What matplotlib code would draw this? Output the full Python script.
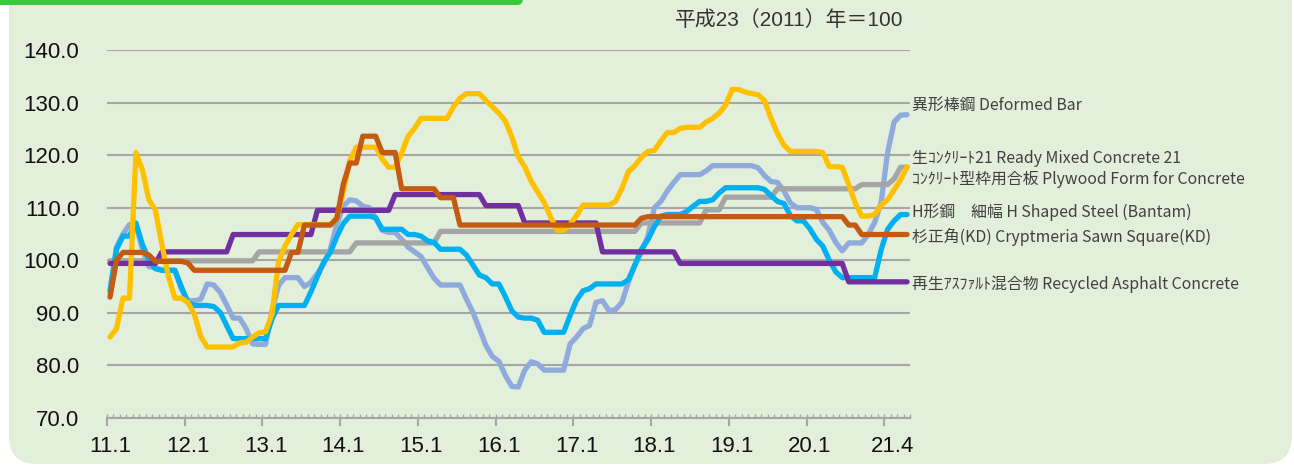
import matplotlib
matplotlib.use('Agg')
import matplotlib.pyplot as plt
from matplotlib.patches import FancyBboxPatch
from matplotlib.transforms import IdentityTransform
import numpy as np

# ---------------- data (monthly index, 2011.1 -> 2021.4) ----------------
x_labels = ["11.1", "12.1", "13.1", "14.1", "15.1", "16.1", "17.1", "18.1", "19.1", "20.1", "21.4"]
y_ticks = [70, 80, 90, 100, 110, 120, 130, 140]

deformed_bar = [
    94.5, 102.5, 105.0, 106.8, 106.8, 102.0, 98.8, 98.6, 98.1, 98.1,
    98.1, 94.5, 92.3, 92.3, 92.6, 95.5, 95.3, 93.9, 91.5, 89.0,
    89.0, 87.0, 84.1, 84.0, 84.0, 90.4, 95.2, 96.7, 96.7, 96.7,
    95.0, 95.8, 97.5, 99.4, 102.1, 106.9, 110.3, 111.5, 111.3, 110.3,
    110.0, 108.0, 105.7, 105.3, 105.3, 104.0, 102.5, 101.6, 100.7, 98.6,
    96.6, 95.3, 95.3, 95.3, 95.3, 92.6, 90.1, 87.0, 83.8, 81.7,
    80.8, 78.1, 76.0, 75.9, 79.1, 80.7, 80.3, 79.1, 79.1, 79.1,
    79.1, 84.1, 85.4, 87.0, 87.6, 92.0, 92.3, 90.4, 90.6, 92.0,
    95.9, 99.1, 101.5, 104.6, 110.0, 111.2, 113.2, 114.8, 116.3, 116.3,
    116.3, 116.3, 117.0, 118.0, 118.0, 118.0, 118.0, 118.0, 118.0, 118.0,
    117.6, 116.1, 115.0, 114.8, 113.2, 110.9, 110.0, 110.0, 110.0, 109.7,
    107.2, 105.7, 103.4, 101.8, 103.3, 103.3, 103.3, 104.9, 107.2, 111.0,
    120.5, 126.3, 127.6, 127.7]

ready_mixed = [
    99.9, 99.9, 99.9, 99.9, 99.9, 99.9, 99.9, 99.9, 99.9, 99.9,
    99.9, 99.9, 99.9, 99.9, 99.9, 99.9, 99.9, 99.9, 99.9, 99.9,
    99.9, 99.9, 99.9, 101.6, 101.6, 101.6, 101.6, 101.6, 101.6, 101.6,
    101.6, 101.6, 101.6, 101.6, 101.6, 101.6, 101.6, 101.6, 103.3, 103.3,
    103.3, 103.3, 103.3, 103.3, 103.3, 103.3, 103.3, 103.3, 103.3, 103.3,
    103.3, 105.5, 105.5, 105.5, 105.5, 105.5, 105.5, 105.5, 105.5, 105.5,
    105.5, 105.5, 105.5, 105.5, 105.5, 105.5, 105.5, 105.5, 105.5, 105.5,
    105.5, 105.5, 105.5, 105.5, 105.5, 105.5, 105.5, 105.5, 105.5, 105.5,
    105.5, 105.5, 107.1, 107.1, 107.1, 107.1, 107.1, 107.1, 107.1, 107.1,
    107.1, 107.1, 109.6, 109.6, 109.6, 112.0, 112.0, 112.0, 112.0, 112.0,
    112.0, 112.0, 112.0, 113.6, 113.6, 113.6, 113.6, 113.6, 113.6, 113.6,
    113.6, 113.6, 113.6, 113.6, 113.6, 113.6, 114.4, 114.4, 114.4, 114.4,
    114.4, 115.5, 117.7, 117.7]

plywood = [
    85.4, 87.0, 92.8, 92.8, 120.5, 117.2, 111.5, 109.6, 103.0, 97.0,
    92.8, 92.8, 92.0, 89.8, 85.5, 83.5, 83.5, 83.5, 83.5, 83.5,
    84.3, 84.4, 85.4, 86.2, 86.4, 89.8, 99.6, 102.7, 104.9, 106.8,
    106.8, 106.8, 106.8, 106.8, 106.8, 108.0, 113.0, 119.0, 121.5, 121.5,
    121.5, 121.5, 119.3, 117.7, 117.7, 120.4, 123.6, 125.1, 127.0, 127.0,
    127.0, 127.0, 127.0, 129.2, 130.8, 131.7, 131.7, 131.7, 130.4, 129.2,
    128.0, 126.5, 123.5, 119.7, 117.8, 115.0, 113.0, 111.0, 108.2, 105.7,
    105.7, 106.9, 108.5, 110.5, 110.5, 110.5, 110.5, 110.5, 111.2, 113.7,
    116.9, 118.0, 119.6, 120.7, 120.9, 122.7, 124.3, 124.3, 125.1, 125.3,
    125.3, 125.3, 126.3, 127.0, 128.0, 129.5, 132.5, 132.5, 132.0, 131.7,
    131.5, 130.4, 127.0, 124.1, 121.9, 120.7, 120.7, 120.7, 120.7, 120.7,
    120.5, 117.8, 117.8, 117.7, 114.4, 110.9, 108.4, 108.4, 108.7, 110.5,
    111.5, 113.4, 115.3, 117.8]

h_steel = [
    94.0, 102.1, 104.6, 104.6, 107.1, 103.0, 100.0, 98.4, 98.1, 98.1,
    98.1, 95.0, 92.0, 91.4, 91.4, 91.4, 91.2, 90.1, 87.6, 85.1,
    85.1, 85.1, 85.1, 85.1, 85.1, 88.9, 91.4, 91.4, 91.4, 91.4,
    91.4, 94.0, 96.9, 99.7, 101.5, 104.5, 107.0, 108.4, 108.4, 108.4,
    108.4, 108.1, 105.9, 105.9, 105.9, 105.9, 104.9, 104.9, 104.6, 103.7,
    103.4, 102.1, 102.1, 102.1, 102.1, 101.0, 99.1, 97.2, 96.7, 95.5,
    95.5, 93.1, 90.4, 89.2, 89.0, 89.0, 88.6, 86.3, 86.3, 86.3,
    86.3, 89.5, 92.4, 94.2, 94.6, 95.5, 95.5, 95.5, 95.5, 95.5,
    96.3, 99.1, 102.1, 103.9, 106.4, 108.4, 108.7, 108.7, 108.7, 109.3,
    110.3, 111.2, 111.2, 111.5, 112.8, 113.8, 113.8, 113.8, 113.8, 113.8,
    113.8, 113.5, 112.3, 111.2, 110.8, 108.5, 107.5, 107.5, 106.0, 104.0,
    102.7, 100.0, 97.8, 96.7, 96.7, 96.7, 96.7, 96.7, 96.7, 102.0,
    105.9, 107.5, 108.7, 108.7]

sugi = [
    93.0, 100.0, 101.5, 101.5, 101.5, 101.5, 101.0, 99.8, 99.8, 99.8,
    99.8, 99.8, 99.5, 98.1, 98.1, 98.1, 98.1, 98.1, 98.1, 98.1,
    98.1, 98.1, 98.1, 98.1, 98.1, 98.1, 98.1, 98.1, 101.5, 101.5,
    106.7, 106.7, 106.7, 106.7, 106.7, 108.0, 114.5, 118.5, 118.5, 123.6,
    123.6, 123.6, 120.5, 120.5, 120.5, 113.6, 113.6, 113.6, 113.6, 113.6,
    113.6, 111.9, 111.9, 111.9, 106.7, 106.7, 106.7, 106.7, 106.7, 106.7,
    106.7, 106.7, 106.7, 106.7, 106.7, 106.7, 106.7, 106.7, 106.7, 106.7,
    106.7, 106.7, 106.7, 106.7, 106.7, 106.7, 106.7, 106.7, 106.7, 106.7,
    106.7, 106.7, 108.0, 108.3, 108.3, 108.3, 108.3, 108.3, 108.3, 108.3,
    108.3, 108.3, 108.3, 108.3, 108.3, 108.3, 108.3, 108.3, 108.3, 108.3,
    108.3, 108.3, 108.3, 108.3, 108.3, 108.3, 108.3, 108.3, 108.3, 108.3,
    108.3, 108.3, 108.3, 108.3, 106.7, 106.7, 104.9, 104.9, 104.9, 104.9,
    104.9, 104.9, 104.9, 104.9]

asphalt = [
    99.4, 99.4, 99.4, 99.4, 99.4, 99.4, 99.4, 99.4, 101.6, 101.6,
    101.6, 101.6, 101.6, 101.6, 101.6, 101.6, 101.6, 101.6, 101.6, 104.9,
    104.9, 104.9, 104.9, 104.9, 104.9, 104.9, 104.9, 104.9, 104.9, 104.9,
    104.9, 104.9, 109.5, 109.5, 109.5, 109.5, 109.5, 109.5, 109.5, 109.5,
    109.5, 109.5, 109.5, 109.5, 112.5, 112.5, 112.5, 112.5, 112.5, 112.5,
    112.5, 112.5, 112.5, 112.5, 112.5, 112.5, 112.5, 112.5, 110.4, 110.4,
    110.4, 110.4, 110.4, 110.4, 107.1, 107.1, 107.1, 107.1, 107.1, 107.1,
    107.1, 107.1, 107.1, 107.1, 107.1, 107.1, 101.6, 101.6, 101.6, 101.6,
    101.6, 101.6, 101.6, 101.6, 101.6, 101.6, 101.6, 101.6, 99.4, 99.4,
    99.4, 99.4, 99.4, 99.4, 99.4, 99.4, 99.4, 99.4, 99.4, 99.4,
    99.4, 99.4, 99.4, 99.4, 99.4, 99.4, 99.4, 99.4, 99.4, 99.4,
    99.4, 99.4, 99.4, 99.4, 95.9, 95.9, 95.9, 95.9, 95.9, 95.9,
    95.9, 95.9, 95.9, 95.9]

series_names = [
    "異形棒鋼 Deformed Bar",
    "生ｺﾝｸﾘｰﾄ21 Ready Mixed Concrete 21",
    "ｺﾝｸﾘｰﾄ型枠用合板 Plywood Form for Concrete",
    "H形鋼　細幅 H Shaped Steel (Bantam)",
    "杉正角(KD) Cryptmeria Sawn Square(KD)",
    "再生ｱｽﾌｧﾙﾄ混合物 Recycled Asphalt Concrete",
]
title_text = "平成23（2011）年＝100"

# ---------------- styling ----------------
W, H = 1294, 466
colors = {
    "deformed": "#8FAADC",
    "ready": "#A5A5A5",
    "plywood": "#FFC000",
    "h": "#00B0F0",
    "sugi": "#C55A11",
    "asphalt": "#7030A0",
}

num_font = ["Liberation Sans", "DejaVu Sans"]
cjk = "Noto Sans CJK JP"

fig = plt.figure(figsize=(W / 100, H / 100), dpi=100)
fig.patch.set_facecolor("white")

panel = FancyBboxPatch((9, 2), W - 11, 520, boxstyle="round,pad=0,rounding_size=28",
                       transform=IdentityTransform(), fc="#E2EFDA", ec="none", zorder=0)
fig.add_artist(panel)
bar = FancyBboxPatch((-40, H - 5), 563, 40, boxstyle="round,pad=0,rounding_size=6",
                     transform=IdentityTransform(), fc="#3CC83C", ec="none", zorder=1)
fig.add_artist(bar)

ax = fig.add_axes([106.8 / W, 48 / H, 803.5 / W, 368 / H])
ax.patch.set_alpha(0)
n = len(deformed_bar)
x = np.arange(n)

lw = 3.8
order = [
    (deformed_bar, colors["deformed"]),
    (ready_mixed, colors["ready"]),
    (h_steel, colors["h"]),
    (asphalt, colors["asphalt"]),
    (plywood, colors["plywood"]),
    (sugi, colors["sugi"]),
]
for vals, c in order:
    ax.plot(x, vals, color=c, lw=lw, solid_capstyle="round", solid_joinstyle="round", zorder=3)

ax.set_xlim(-0.5, n - 0.5)
ax.set_ylim(70, 140)
ax.set_yticks(y_ticks)
ax.set_yticklabels([f"{v:.1f}" for v in y_ticks], fontsize=16, family=num_font, color="#111111")
ax.tick_params(axis="y", length=0, pad=20)
ax.yaxis.grid(True, color="#A6A6A6", lw=1.5)
ax.set_axisbelow(True)

for s in ["top", "right", "left"]:
    ax.spines[s].set_visible(False)
ax.spines["bottom"].set_color("#A6A6A6")
ax.spines["bottom"].set_linewidth(1.5)
ax.spines["bottom"].set_zorder(2)

ax.xaxis.remove_overlapping_locs = False
ax.set_xticks(np.arange(-0.5, n - 1, 12))
ax.set_xticklabels([])
ax.set_xticks(np.arange(-0.5, n, 1), minor=True)
ax.tick_params(axis="x", which="major", direction="out", length=6, width=1.5, color="#A6A6A6")
ax.tick_params(axis="x", which="minor", direction="in", length=3, width=1, color="#A6A6A6")

label_pos = list(range(0, 120, 12)) + [120.8]
sec = ax.secondary_xaxis("bottom")
sec.set_xticks(label_pos)
sec.set_xticklabels(x_labels, fontsize=16, family=num_font, color="#111111")
sec.tick_params(length=0, pad=13)
sec.spines["bottom"].set_visible(False)

fig.text(903 / W, 1 - 20 / H, title_text, ha="right", va="center", fontsize=15,
         family=["Liberation Sans", cjk], color="#333333")

label_y = [105, 158.5, 179.5, 212.5, 237.5, 284]
for name, yy in zip(series_names, label_y):
    fig.text(912 / W, 1 - yy / H, name, ha="left", va="center", fontsize=11.4,
             family=[cjk, "DejaVu Sans"], color="#404040")

fig.savefig("out.png", dpi=100, facecolor=fig.get_facecolor())
